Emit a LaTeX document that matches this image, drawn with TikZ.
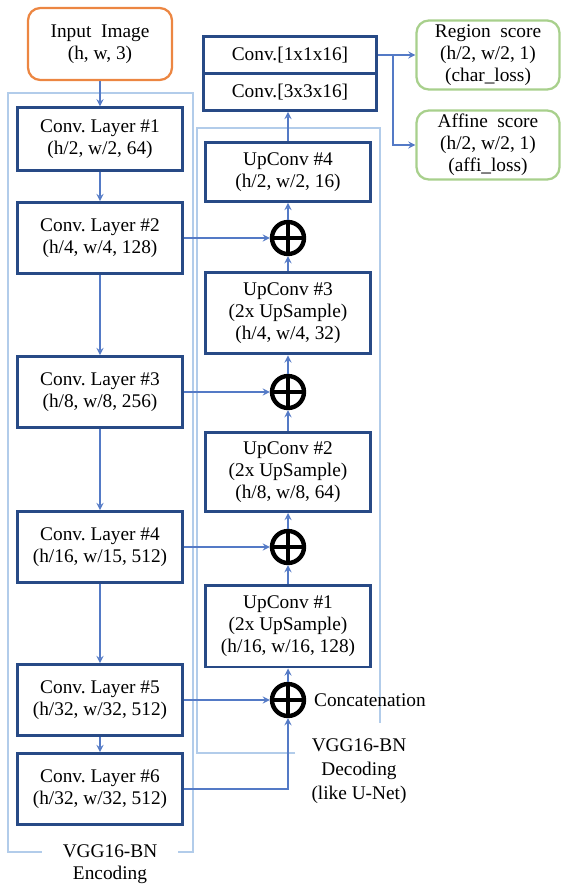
\documentclass[tikz,border=0pt]{standalone}
\usepackage{fontspec}
\setmainfont{Liberation Serif}
\usepackage{xcolor}
\usetikzlibrary{positioning}
\definecolor{BoxBlue}{RGB}{40,74,134}
\definecolor{FrameBlue}{RGB}{178,204,234}
\definecolor{ArrowBlue}{RGB}{84,122,198}
\definecolor{InputOrange}{RGB}{236,134,66}
\definecolor{ScoreGreen}{RGB}{168,208,140}

\begin{document}
\begin{tikzpicture}[x=0.02cm, y=-0.02cm,
    every node/.style={font=\fontsize{11}{12.5}\selectfont},
    layer/.style={rectangle, draw=BoxBlue, line width=1.7pt, minimum width=3.3cm,
                  minimum height=1.42cm, align=center, inner sep=2pt},
    upbox/.style={layer, minimum height=1.64cm},
    headbox/.style={layer, minimum width=3.48cm, minimum height=0.74cm},
    roundbox/.style={rectangle, rounded corners=7pt, line width=1.3pt, align=center,
                     minimum width=2.86cm, minimum height=1.38cm, inner sep=2pt},
    plus/.style={circle, draw=black, line width=2.5pt, minimum size=0.64cm, inner sep=0pt,
                 path picture={\draw[line width=2.5pt]
                   (path picture bounding box.north) -- (path picture bounding box.south)
                   (path picture bounding box.west) -- (path picture bounding box.east);}},
    frame/.style={draw=FrameBlue, line width=1.1pt},
    arr/.style={->, >=stealth, draw=ArrowBlue, line width=0.8pt},
]
\useasboundingbox (0,0) rectangle (563,888);

% frames
\draw[frame] (8,93) rectangle (193,852);
\draw[frame] (295,753) -- (197,753) -- (197,128) -- (380,128) -- (380,723);
\node[fill=white, inner xsep=12pt, inner ysep=1pt, align=center] (enclabel) at (110,864) {VGG16-BN\\Encoding};
\node[align=center, font=\fontsize{11}{13.5}\selectfont] (declabel) at (359,771) {VGG16-BN\\Decoding\\(like U-Net)};

% input and encoder
\node[roundbox, draw=InputOrange, minimum width=2.88cm, minimum height=1.44cm]
      (input) at (100,44) {Input\ \ Image\\(h, w, 3)};
\node[layer, minimum height=1.25cm] (conv1) at (100,139) {Conv.\ Layer \#1\\(h/2, w/2, 64)};
\node[layer] (conv2) at (100,238) {Conv.\ Layer \#2\\(h/4, w/4, 128)};
\node[layer] (conv3) at (100,392) {Conv.\ Layer \#3\\(h/8, w/8, 256)};
\node[layer] (conv4) at (100,547) {Conv.\ Layer \#4\\(h/16, w/15, 512)};
\node[layer] (conv5) at (100,700) {Conv.\ Layer \#5\\(h/32, w/32, 512)};
\node[layer] (conv6) at (100,789) {Conv.\ Layer \#6\\(h/32, w/32, 512)};

% decoder
\node[plus] (plus5) at (288,700) {};
\node[upbox] (upconv1) at (288,626) {UpConv \#1\\(2x UpSample)\\(h/16, w/16, 128)};
\node[plus] (plus4) at (288,547) {};
\node[upbox, minimum height=1.58cm] (upconv2) at (288,472) {UpConv \#2\\(2x UpSample)\\(h/8, w/8, 64)};
\node[plus] (plus3) at (288,392) {};
\node[upbox] (upconv3) at (288,313) {UpConv \#3\\(2x UpSample)\\(h/4, w/4, 32)};
\node[plus] (plus2) at (288,238) {};
\node[layer, minimum height=1.18cm] (upconv4) at (288,172) {UpConv \#4\\(h/2, w/2, 16)};
\node[headbox] (head3) at (290,92) {Conv.[3x3x16]};
\node[headbox] (head1) at (290,55) {Conv.[1x1x16]};
\node[right=1pt of plus5] (concat) {Concatenation};

% outputs
\node[roundbox, draw=ScoreGreen] (region) at (488,55) {Region\ \ score\\(h/2, w/2, 1)\\(char\_loss)};
\node[roundbox, draw=ScoreGreen] (affine) at (488,145) {Affine\ \ score\\(h/2, w/2, 1)\\(affi\_loss)};
\coordinate (split) at (393,55);

% encoder arrows
\draw[arr] (input) -- (conv1);
\draw[arr] (conv1) -- (conv2);
\draw[arr] (conv2) -- (conv3);
\draw[arr] (conv3) -- (conv4);
\draw[arr] (conv4) -- (conv5);
\draw[arr] (conv5) -- (conv6);

% skip connections
\draw[arr] (conv2) -- (plus2);
\draw[arr] (conv3) -- (plus3);
\draw[arr] (conv4) -- (plus4);
\draw[arr] (conv5) -- (plus5);
\draw[arr] (conv6) -| (plus5);

% decoder arrows
\draw[arr] (plus5) -- (upconv1);
\draw[arr] (upconv1) -- (plus4);
\draw[arr] (plus4) -- (upconv2);
\draw[arr] (upconv2) -- (plus3);
\draw[arr] (plus3) -- (upconv3);
\draw[arr] (upconv3) -- (plus2);
\draw[arr] (plus2) -- (upconv4);
\draw[arr] (upconv4) -- (upconv4 |- head3.south);

% output arrows
\draw[arr] (head1) -- (region);
\draw[arr] (split) |- (affine);
\end{tikzpicture}
\end{document}
